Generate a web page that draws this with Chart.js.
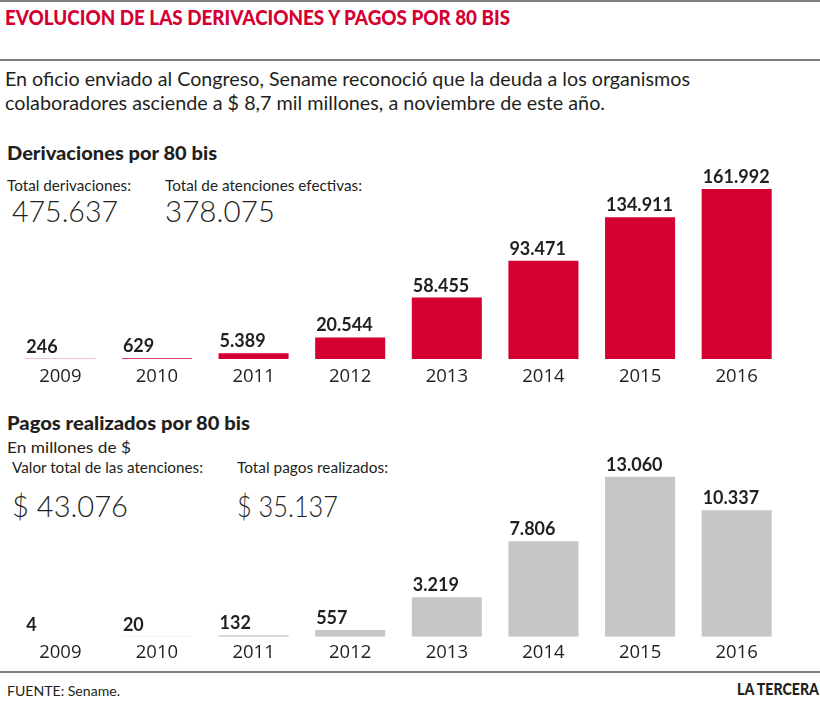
<!DOCTYPE html>
<html>
<head>
<meta charset="utf-8">
<script src="https://cdn.jsdelivr.net/npm/chart.js@4/dist/chart.umd.min.js"></script>
<style>
  html, body { margin: 0; padding: 0; background: #fff; }
  #wrap { position: relative; width: 820px; height: 708px; overflow: hidden; color: #231f20; }
  .t { position: absolute; white-space: nowrap; line-height: 1; font-family: Lato, "Open Sans", sans-serif; transform-origin: 0 0; }
  .rule { position: absolute; left: 0; width: 820px; height: 2px; background: #808080; }
  .head { font-weight: 900; font-size: 18px; }
  .lab { font-weight: 400; font-size: 16px; }
  .big { font-weight: 300; font-size: 30px; }
  canvas { position: absolute; left: 0; }
</style>
</head>
<body>
<div id="wrap">
  <div class="rule" style="top:0;height:1.5px"></div>
  <div class="t fit" data-w="505" style="left:5px;top:7px;font-size:20px;font-weight:900;color:#d50032;">EVOLUCION DE LAS DERIVACIONES Y PAGOS POR 80 BIS</div>
  <div class="rule" style="top:59px"></div>
  <div class="t fit" data-w="685" style="left:5px;top:68px;font-size:20px;">En oficio enviado al Congreso, Sename reconoció que la deuda a los organismos</div>
  <div class="t fit" data-w="600" style="left:5px;top:92px;font-size:20px;">colaboradores asciende a $ 8,7 mil millones, a noviembre de este año.</div>

  <div class="t head fit" data-w="210" style="left:7px;top:144px;">Derivaciones por 80 bis</div>
  <div class="t lab fit" data-w="124" style="left:7px;top:177px;">Total derivaciones:</div>
  <div class="t lab fit" data-w="197" style="left:165px;top:177px;">Total de atenciones efectivas:</div>
  <div class="t big fit" data-w="106" style="left:12px;top:195px;">475.637</div>
  <div class="t big fit" data-w="110" style="left:165px;top:195px;">378.075</div>

  <div class="t head fit" data-w="243" style="left:7px;top:414px;">Pagos realizados por 80 bis</div>
  <div class="t lab fit" data-w="124" style="left:7px;top:439px;">En millones de $</div>
  <div class="t lab fit" data-w="191" style="left:12px;top:459px;">Valor total de las atenciones:</div>
  <div class="t lab fit" data-w="151" style="left:237px;top:459px;">Total pagos realizados:</div>
  <div class="t big fit" data-w="116" style="left:12px;top:490px;">$ 43.076</div>
  <div class="t big fit" data-w="101" style="left:237px;top:490px;">$ 35.137</div>

  <div class="rule" style="top:671px"></div>
  <div class="t fit" data-w="113" style="left:7px;top:684px;font-size:14px;">FUENTE: Sename.</div>
  <div class="t fit" data-w="82" style="left:737px;top:681px;font-size:16px;font-weight:900;">LA TERCERA</div>

  <canvas id="c1" width="820" height="250" style="top:149px;width:820px;height:250px;"></canvas>
  <canvas id="c2" width="820" height="220" style="top:453px;width:820px;height:220px;"></canvas>
</div>
<script>
const years = ['2009', '2010', '2011', '2012', '2013', '2014', '2015', '2016'];
const derivaciones = [246, 629, 5389, 20544, 58455, 93471, 134911, 161992];
const pagos = [4, 20, 132, 557, 3219, 7806, 13060, 10337];
const derivacionesAxisMax = 200000;
const pagosAxisMax = 15000;

function fitTexts() {
  document.querySelectorAll('.fit').forEach(el => {
    el.style.transform = 'none';
    const w = el.getBoundingClientRect().width;
    const target = parseFloat(el.dataset.w);
    if (w > 0) el.style.transform = 'scaleX(' + (target / w) + ')';
  });
}
fitTexts();
if (document.fonts && document.fonts.ready) document.fonts.ready.then(fitTexts);

function fmt(v) { return String(v).replace(/\B(?=(\d{3})+(?!\d))/g, '.'); }

const valueLabels = {
  id: 'valueLabels',
  afterDatasetsDraw(chart) {
    const ctx = chart.ctx;
    const meta = chart.getDatasetMeta(0);
    const data = chart.data.datasets[0].data;
    ctx.save();
    ctx.font = '700 18px Lato, "Open Sans", sans-serif';
    ctx.fillStyle = '#231f20';
    ctx.textAlign = 'left';
    ctx.textBaseline = 'alphabetic';
    meta.data.forEach((bar, i) => {
      const left = bar.x - bar.width / 2;
      ctx.fillText(fmt(data[i]), left + 1, bar.y - 6);
    });
    ctx.restore();
  }
};

function makeChart(id, values, color, yMax, tickPad, padBottom) {
  return new Chart(document.getElementById(id), {
    type: 'bar',
    data: {
      labels: years,
      datasets: [{ data: values, backgroundColor: color, borderWidth: 0,
                   categoryPercentage: 1, barPercentage: 0.725 }]
    },
    options: {
      responsive: false,
      animation: false,
      layout: { padding: { left: 12, right: 35, top: 0, bottom: padBottom } },
      plugins: { legend: { display: false }, tooltip: { enabled: false } },
      scales: {
        x: {
          grid: { display: false, drawTicks: false },
          border: { display: false },
          ticks: { color: '#231f20', padding: tickPad,
                   font: { family: '"Open Sans", sans-serif', size: 18.5 } }
        },
        y: { display: false, min: 0, max: yMax }
      }
    },
    plugins: [valueLabels]
  });
}

makeChart('c1', derivaciones, '#d50032', derivacionesAxisMax, 7, 3.8);
makeChart('c2', pagos, '#c6c6c6', pagosAxisMax, 5, 4);
</script>
</body>
</html>
